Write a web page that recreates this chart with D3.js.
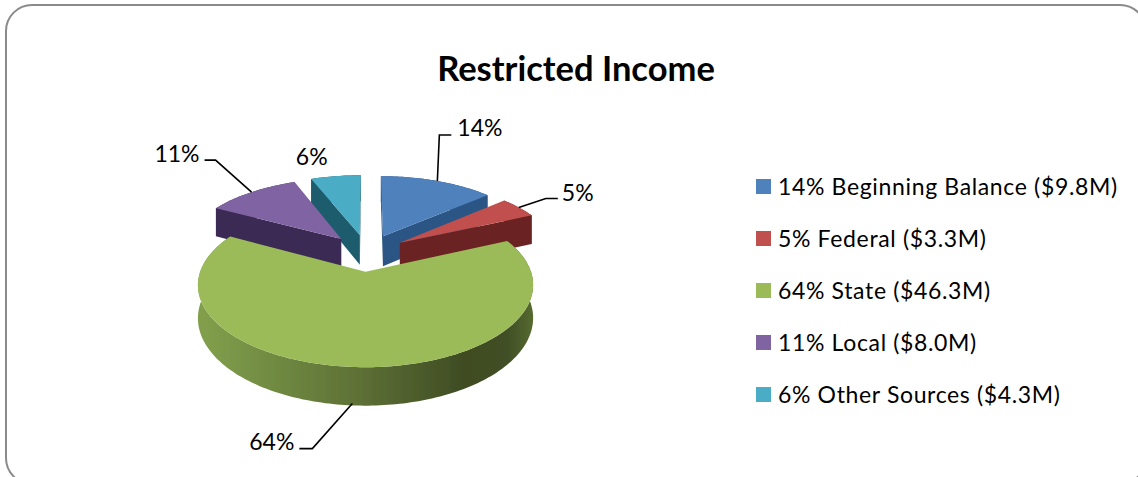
<!DOCTYPE html>
<html><head><meta charset="utf-8">
<script src="https://d3js.org/d3.v7.min.js"></script>
<style>html,body{margin:0;padding:0;background:#fff;overflow:hidden}svg{display:block}text{font-family:Lato,"Open Sans",sans-serif;fill:#000}</style>
</head><body><svg id="c" width="1138" height="477"></svg>
<script>
const titleText = "Restricted Income";
const categories = ["Beginning Balance","Federal","State","Local","Other Sources"];
const values = [9.8,3.3,46.3,8.0,4.3];
const percents = [14,5,64,11,6];
const amounts = ["$9.8M","$3.3M","$46.3M","$8.0M","$4.3M"];
const topColors = ["#4f81bd","#c0504d","#9bbb59","#8064a2","#4bacc6"];
const sideColors = ["#2c5585","#6b2422","#5c6e35","#3a2a52","#1f5c6d"];

const svg = d3.select("#c");
const defs = svg.append("defs");
const blur = defs.append("filter").attr("id","soft").attr("x","-5%").attr("y","-5%").attr("width","110%").attr("height","110%");
blur.append("feGaussianBlur").attr("stdDeviation",0.45);
const g = defs.append("linearGradient").attr("id","greenSide").attr("gradientUnits","userSpaceOnUse")
  .attr("x1",199).attr("x2",531).attr("y1",0).attr("y2",0);
[[0,"#82a04c"],[0.2,"#728d43"],[0.5,"#5c6e35"],[0.8,"#3f4c23"],[0.93,"#414f25"],[1,"#55682f"]]
  .forEach(s=>g.append("stop").attr("offset",s[0]).attr("stop-color",s[1]));

svg.append("rect").attr("x",6).attr("y",5).attr("width",1140).attr("height",479).attr("rx",26)
  .attr("fill","#fff").attr("stroke","#8a8a8a").attr("stroke-width",2);

svg.append("text").attr("x",576).attr("y",81).attr("text-anchor","middle")
  .attr("font-size",34.5).attr("font-weight",700).text(titleText);

// perspective projection of the tilted pie
const cx=367, cy=252.5, R=159, K=74, A=0.155, D=31, EX=0.25;
function proj(u,v,z){const p=1/(1-A*v);return [cx+R*u*p, cy+K*v*p+(z?D*p:0)];}
const arcs = d3.pie().sort(null).startAngle(0).endAngle(2*Math.PI)(values);
const line = d3.line();
const slices = arcs.map((a,i)=>{
  const mid=(a.startAngle+a.endAngle)/2;
  const ou=EX*Math.sin(mid), ov=-EX*Math.cos(mid);
  const pt=(ang,r,z)=>proj(ou+r*Math.sin(ang),ov-r*Math.cos(ang),z);
  const n=Math.max(4,Math.ceil((a.endAngle-a.startAngle)/0.02));
  const angs=d3.range(n+1).map(k=>a.startAngle+(a.endAngle-a.startAngle)*k/n);
  return {i,a,mid,pt,angs};
});
const layer=svg.append("g").attr("filter","url(#soft)");
function drawSlice(s){
  const fill=s.i===2?"url(#greenSide)":sideColors[s.i];
  const apexT=s.pt(0,0,false), apexB=s.pt(0,0,true);
  const top=s.angs.map(t=>s.pt(t,1,false)), bot=s.angs.map(t=>s.pt(t,1,true)).reverse();
  // outer wall
  layer.append("path").attr("d",line(top.concat(bot))+"Z").attr("fill",fill);
  // radial cut faces: only those turned to the viewer
  [[s.a.startAngle,1],[s.a.endAngle,-1]].forEach(([ang,dir])=>{
    const q=[apexT,s.pt(ang,1,false),s.pt(ang,1,true),apexB];
    if(d3.polygonArea(q)*dir>0){ layer.append("path").attr("d",line(q)+"Z").attr("fill",sideColors[s.i]); }
  });
  // top face
  layer.append("path").attr("d",line([apexT].concat(top))+"Z").attr("fill",topColors[s.i]);
}
[4,3,0,1,2].forEach(i=>drawSlice(slices[i]));

// leader lines and percentage labels, placed relative to each slice's outer midpoint
const labelOffsets = [
  {line:[[2,-46],[14,-46]], text:[20,-53], anchor:"start"},
  {line:[[27,-9],[39,-9]], text:[43,-15], anchor:"start"},
  {start:[-6,-2], line:[[-46,43],[-59,43]], text:[-64,36], anchor:"end"},
  {line:[[-36,-32],[-47,-32]], text:[-52,-38], anchor:"end"},
  {text:[-24,-19], anchor:"middle"}
];
slices.forEach((s,i)=>{
  const o=labelOffsets[i];
  const edge=s.pt(s.mid,1,i===2);
  if(o.line){
    const st=o.start?[edge[0]+o.start[0],edge[1]+o.start[1]]:edge;
    const pts=[st].concat(o.line.map(d=>[edge[0]+d[0],edge[1]+d[1]]));
    svg.append("path").attr("d",line(pts)).attr("fill","none").attr("stroke","#000").attr("stroke-width",1.6);
  }
  svg.append("text").attr("x",edge[0]+o.text[0]).attr("y",edge[1]+o.text[1]).attr("dy","0.36em")
    .attr("text-anchor",o.anchor).attr("font-size",23).text(percents[i]+"%");
});

// legend
const ly=d3.scalePoint().domain(categories).range([186.5,394.5]);
const leg=svg.append("g").selectAll("g").data(categories).join("g").attr("transform",d=>`translate(0,${ly(d)})`);
leg.append("rect").attr("x",756).attr("y",-7.5).attr("width",15).attr("height",15).attr("fill",(d,i)=>topColors[i]);
leg.append("text").attr("x",778).attr("dy","0.36em").attr("font-size",23).attr("letter-spacing",0.65)
  .text((d,i)=>`${percents[i]}% ${d} (${amounts[i]})`);
</script></body></html>
